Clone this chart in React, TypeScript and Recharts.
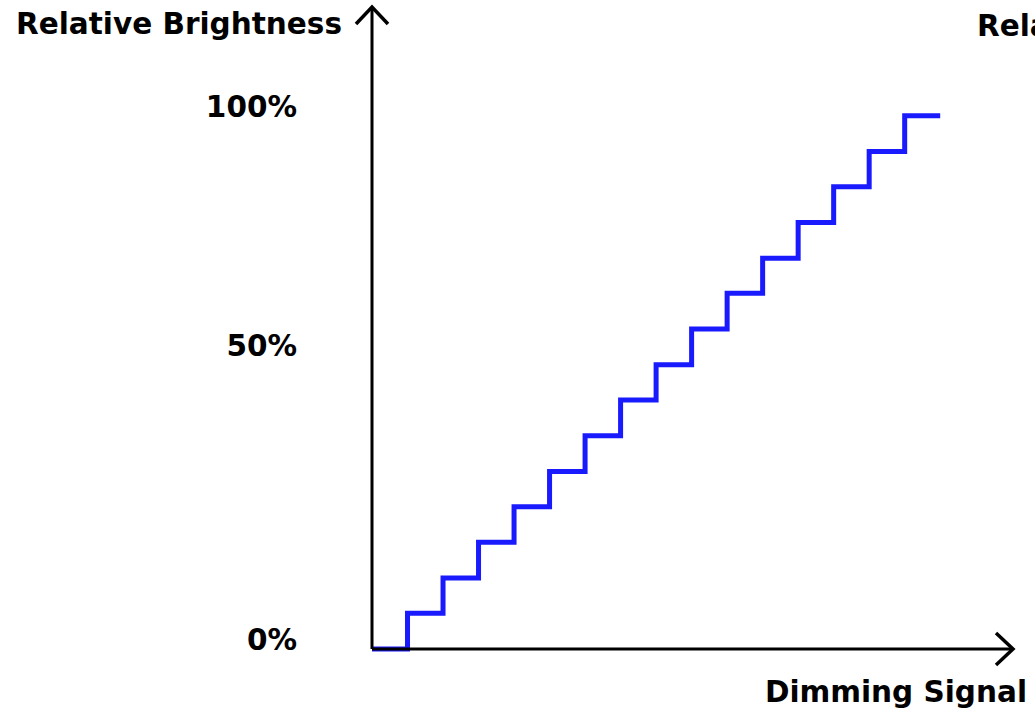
import { LineChart, Line, XAxis, YAxis } from 'recharts';

const signal = [0, 1, 2, 3, 4, 5, 6, 7, 8, 9, 10, 11, 12, 13, 14, 15, 16];
const brightness = [0, 6.7, 13.3, 20, 26.7, 33.3, 40, 46.7, 53.3, 60, 66.7, 73.3, 80, 86.7, 93.3, 100, 100];

const yTickValues = [1.7, 57, 101.7];
const yTickLabels = ['0%', '50%', '100%'];

const yTitle = 'Relative Brightness';
const xTitle = 'Dimming Signal';

const data = signal.map((s, i) => ({ signal: s, brightness: brightness[i] }));

const font = '"DejaVu Sans", sans-serif';

export default function App() {
    return (
        <div style={{ position: 'absolute', left: 0, top: 0, width: 1035, height: 715, overflow: 'hidden', background: '#fff' }}>
            <LineChart width={1035} height={715} data={data} margin={{ top: 7, right: 22, bottom: 65, left: 0 }}>
                <XAxis
                    type="number"
                    dataKey="signal"
                    domain={[0, 18.05]}
                    height={1}
                    tick={false}
                    tickLine={false}
                    stroke="#000"
                    strokeWidth={3}
                    axisLine={{ stroke: '#000', strokeWidth: 3 }}
                />
                <YAxis
                    type="number"
                    domain={[0, 120.4]}
                    width={372}
                    ticks={yTickValues}
                    tickFormatter={(v: number) => yTickLabels[yTickValues.indexOf(v)]}
                    tickLine={false}
                    tickSize={0}
                    tickMargin={75}
                    stroke="#000"
                    strokeWidth={3}
                    axisLine={{ stroke: '#000', strokeWidth: 3 }}
                    tick={{ fill: '#000', fontSize: 29.5, fontWeight: 700, fontFamily: font }}
                />
                <Line
                    type="stepAfter"
                    dataKey="brightness"
                    stroke="#1a1aff"
                    strokeWidth={5}
                    dot={false}
                    isAnimationActive={false}
                />
            </LineChart>
            <svg width={1035} height={715} style={{ position: 'absolute', left: 0, top: 0, pointerEvents: 'none' }}>
                <polyline points="356,24 372,7 388,24" fill="none" stroke="#000" strokeWidth={3.5} />
                <polyline points="996,633 1013,649 996,665" fill="none" stroke="#000" strokeWidth={3.5} />
                <g fontFamily={font} fontWeight={700} fontSize={29.5} fill="#000">
                    <text x={16} y={34}>{yTitle}</text>
                    <text x={977} y={36}>{yTitle}</text>
                    <text x={1027} y={702} textAnchor="end">{xTitle}</text>
                </g>
            </svg>
        </div>
    );
}
